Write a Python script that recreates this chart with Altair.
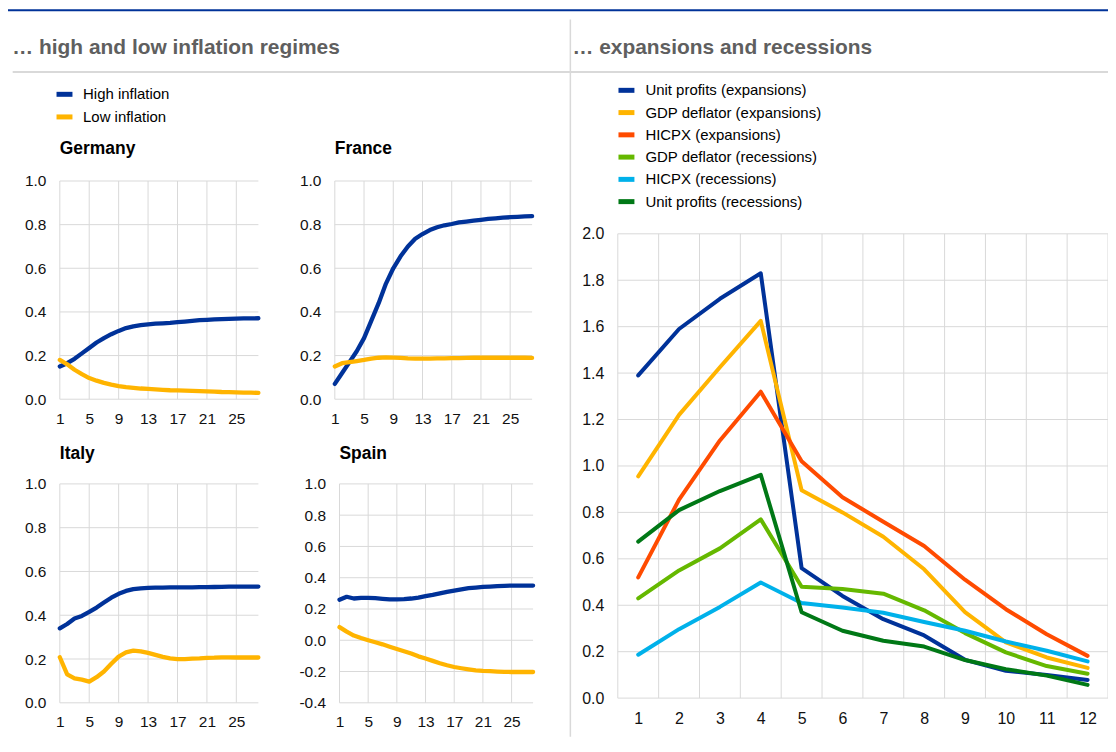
import altair as alt
import pandas as pd

FONT = "Liberation Sans"
W, H = 1104, 730
GRID = "#d9d9d9"
LBL = "#111111"

# ---------------- data ----------------
horizon = list(range(1, 29))
small_xticks = [1, 5, 9, 13, 17, 21, 25]
yticks_0_1 = [0.0, 0.2, 0.4, 0.6, 0.8, 1.0]
yticks_spain = [-0.4, -0.2, 0.0, 0.2, 0.4, 0.6, 0.8, 1.0]

regimes = ["High inflation", "Low inflation"]
regime_colors = ["#003299", "#ffb400"]

germany_high = [0.150, 0.165, 0.185, 0.210, 0.235, 0.260, 0.280, 0.298, 0.313, 0.326, 0.334, 0.339, 0.343, 0.346,
                0.348, 0.350, 0.353, 0.356, 0.359, 0.362, 0.364, 0.366, 0.367, 0.368, 0.369, 0.370, 0.370, 0.371]
germany_low = [0.180, 0.160, 0.135, 0.115, 0.097, 0.085, 0.075, 0.067, 0.060, 0.055, 0.052, 0.049, 0.047, 0.045,
               0.043, 0.041, 0.040, 0.039, 0.038, 0.037, 0.036, 0.035, 0.033, 0.032, 0.031, 0.030, 0.030, 0.029]
france_high = [0.070, 0.120, 0.170, 0.220, 0.280, 0.360, 0.440, 0.530, 0.600, 0.655, 0.700, 0.735, 0.757, 0.775,
               0.788, 0.797, 0.803, 0.810, 0.814, 0.818, 0.822, 0.826, 0.829, 0.832, 0.834, 0.836, 0.838, 0.839]
france_low = [0.150, 0.165, 0.170, 0.175, 0.180, 0.186, 0.190, 0.192, 0.191, 0.189, 0.187, 0.186, 0.186, 0.186,
              0.187, 0.187, 0.188, 0.188, 0.189, 0.190, 0.190, 0.190, 0.190, 0.190, 0.190, 0.190, 0.190, 0.189]
italy_high = [0.340, 0.360, 0.385, 0.397, 0.415, 0.435, 0.458, 0.480, 0.498, 0.511, 0.519, 0.523, 0.525, 0.526,
              0.526, 0.527, 0.527, 0.527, 0.527, 0.528, 0.528, 0.529, 0.530, 0.531, 0.531, 0.531, 0.531, 0.531]
italy_low = [0.208, 0.130, 0.112, 0.106, 0.097, 0.117, 0.143, 0.178, 0.211, 0.230, 0.238, 0.235, 0.228, 0.219,
             0.210, 0.203, 0.200, 0.200, 0.202, 0.203, 0.205, 0.206, 0.208, 0.208, 0.207, 0.207, 0.207, 0.207]
spain_high = [0.259, 0.278, 0.267, 0.271, 0.271, 0.269, 0.265, 0.261, 0.261, 0.263, 0.267, 0.273, 0.282, 0.290,
              0.300, 0.310, 0.318, 0.326, 0.333, 0.337, 0.341, 0.343, 0.346, 0.348, 0.350, 0.350, 0.350, 0.350]
spain_low = [0.084, 0.055, 0.030, 0.014, 0.000, -0.013, -0.026, -0.041, -0.056, -0.070, -0.085, -0.103, -0.117,
             -0.132, -0.147, -0.160, -0.171, -0.179, -0.186, -0.192, -0.196, -0.198, -0.200, -0.202, -0.203,
             -0.203, -0.203, -0.203]

quarters = list(range(1, 13))
right_xgrid = [0.5, 1.5, 2.5, 3.5, 4.5, 5.5, 6.5, 7.5, 8.5, 9.5, 10.5, 11.5, 12.5]
right_yticks = [0.0, 0.2, 0.4, 0.6, 0.8, 1.0, 1.2, 1.4, 1.6, 1.8, 2.0]
cycle_series = ["Unit profits (expansions)", "GDP deflator (expansions)", "HICPX (expansions)",
                "GDP deflator (recessions)", "HICPX (recessions)", "Unit profits (recessions)"]
cycle_colors = ["#003299", "#ffb400", "#ff4b00", "#65b800", "#00b1ea", "#007816"]
unit_profits_exp = [1.39, 1.59, 1.72, 1.83, 0.56, 0.44, 0.34, 0.27, 0.165, 0.118, 0.100, 0.078]
gdp_deflator_exp = [0.955, 1.22, 1.425, 1.625, 0.895, 0.80, 0.695, 0.555, 0.37, 0.24, 0.175, 0.13]
hicpx_exp = [0.52, 0.855, 1.11, 1.32, 1.02, 0.865, 0.76, 0.655, 0.51, 0.383, 0.275, 0.182]
gdp_deflator_rec = [0.43, 0.55, 0.645, 0.77, 0.48, 0.47, 0.45, 0.378, 0.28, 0.197, 0.138, 0.105]
hicpx_rec = [0.187, 0.297, 0.393, 0.498, 0.41, 0.39, 0.368, 0.328, 0.29, 0.244, 0.204, 0.158]
unit_profits_rec = [0.674, 0.81, 0.892, 0.962, 0.37, 0.29, 0.247, 0.222, 0.164, 0.125, 0.097, 0.057]

section_titles = ["\u2026 high and low inflation regimes", "\u2026 expansions and recessions"]

# ---------------- helpers ----------------
AX = dict(domain=False, ticks=False, tickSize=0, grid=False, labelFont=FONT, labelColor=LBL,
          title=None, labelFlush=False, labelOverlap=False)
YFMT = "(datum.value < 0 ? '-' : '') + format(abs(datum.value), '.1f')"


def one_row(**kw):
    return pd.DataFrame([kw])


def panel(title, x0, x1, ytop, ybot, ydom, yticks, high, low, title_y):
    xs = alt.Scale(domain=[1, 28], range=[x0, x1], nice=False, zero=False)
    ys = alt.Scale(domain=ydom, range=[ybot, ytop], nice=False, zero=False)
    vgrid = alt.Chart(pd.DataFrame({"h": small_xticks})).mark_rule(color=GRID, strokeWidth=1).encode(
        x=alt.X("h:Q", scale=xs, axis=None), y=alt.value(ytop), y2=alt.value(ybot))
    hgrid = alt.Chart(pd.DataFrame({"v": yticks})).mark_rule(color=GRID, strokeWidth=1).encode(
        y=alt.Y("v:Q", scale=ys, axis=None), x=alt.value(x0), x2=alt.value(x1))
    df = pd.DataFrame({"horizon": horizon * 2, "value": high + low,
                       "regime": [regimes[0]] * len(high) + [regimes[1]] * len(low)})
    lines = alt.Chart(df).mark_line(strokeWidth=4.3, strokeCap="round", strokeJoin="round").encode(
        x=alt.X("horizon:Q", scale=xs,
                axis=alt.Axis(values=small_xticks, orient="bottom", offset=ybot - H, labelPadding=12,
                              labelFontSize=15.5, **AX)),
        y=alt.Y("value:Q", scale=ys,
                axis=alt.Axis(values=yticks, orient="left", offset=-x0, labelPadding=14, labelFontSize=15.5,
                              labelExpr=YFMT, **AX)),
        color=alt.Color("regime:N", scale=alt.Scale(domain=regimes, range=regime_colors), legend=None),
        detail="regime:N",
    )
    ttl = alt.Chart(one_row(t=title)).mark_text(
        align="left", baseline="alphabetic", font=FONT, fontSize=17.5, fontWeight="bold", color="#000000"
    ).encode(x=alt.value(x0), y=alt.value(title_y), text="t:N")
    return [vgrid, hgrid, lines, ttl]


layers = []

# ---------------- header decoration ----------------
layers.append(alt.Chart(one_row(k=1)).mark_rule(color="#003299", strokeWidth=2).encode(
    x=alt.value(0), x2=alt.value(W), y=alt.value(1)))
layers.append(alt.Chart(one_row(k=1)).mark_rule(color="#d9d9d9", strokeWidth=2).encode(
    x=alt.value(4.7), x2=alt.value(W), y=alt.value(63)))
layers.append(alt.Chart(one_row(k=1)).mark_rule(color="#d9d9d9", strokeWidth=1.5).encode(
    x=alt.value(564.4), y=alt.value(10.3), y2=alt.value(H)))
for txt, xpos in zip(section_titles, [4.3, 566.5]):
    layers.append(alt.Chart(one_row(t=txt)).mark_text(
        align="left", baseline="alphabetic", font=FONT, fontSize=21, fontWeight="bold", color="#5f5f5f"
    ).encode(x=alt.value(xpos), y=alt.value(44.5), text="t:N"))

# ---------------- left legend ----------------
leg_l = pd.DataFrame({"name": regimes})
leg_l_y = alt.Y("name:N", scale=alt.Scale(type="point", domain=regimes, range=[85.3, 108.0], padding=0), axis=None)
layers.append(alt.Chart(leg_l).mark_rule(strokeWidth=5).encode(
    x=alt.value(48.7), x2=alt.value(64.7), y=leg_l_y,
    color=alt.Color("name:N", scale=alt.Scale(domain=regimes, range=regime_colors), legend=None)))
layers.append(alt.Chart(leg_l).mark_text(align="left", baseline="middle", font=FONT, fontSize=15,
                                         color="#000000").encode(
    x=alt.value(75.3), y=leg_l_y, text="name:N"))

# ---------------- small panels ----------------
layers += panel("Germany", 52, 251.3, 172.3, 391.3, [0, 1], yticks_0_1, germany_high, germany_low, 145.3)
layers += panel("France", 328, 526, 172.3, 391.3, [0, 1], yticks_0_1, france_high, france_low, 145.3)
layers += panel("Italy", 52, 251.3, 476.3, 696, [0, 1], yticks_0_1, italy_high, italy_low, 451)
layers += panel("Spain", 332.7, 527, 476.3, 696, [-0.4, 1], yticks_spain, spain_high, spain_low, 451)

# ---------------- right legend ----------------
leg_r = pd.DataFrame({"name": cycle_series})
leg_r_y = alt.Y("name:N", scale=alt.Scale(type="point", domain=cycle_series, range=[81.3, 193.0], padding=0),
                axis=None)
layers.append(alt.Chart(leg_r).mark_rule(strokeWidth=5).encode(
    x=alt.value(612.7), x2=alt.value(628.7), y=leg_r_y,
    color=alt.Color("name:N", scale=alt.Scale(domain=cycle_series, range=cycle_colors), legend=None)))
layers.append(alt.Chart(leg_r).mark_text(align="left", baseline="middle", font=FONT, fontSize=15,
                                         color="#000000").encode(
    x=alt.value(639.7), y=leg_r_y, text="name:N"))

# ---------------- right panel ----------------
RX0, RX1, RYT, RYB = 612, W, 225.3, 691.3
xs_r = alt.Scale(domain=[0.5, 12.5], range=[RX0, RX1], nice=False, zero=False)
ys_r = alt.Scale(domain=[0, 2], range=[RYB, RYT], nice=False, zero=False)
layers.append(alt.Chart(pd.DataFrame({"g": right_xgrid})).mark_rule(color=GRID, strokeWidth=1).encode(
    x=alt.X("g:Q", scale=xs_r, axis=None), y=alt.value(RYT), y2=alt.value(RYB)))
layers.append(alt.Chart(pd.DataFrame({"v": right_yticks})).mark_rule(color=GRID, strokeWidth=1).encode(
    y=alt.Y("v:Q", scale=ys_r, axis=None), x=alt.value(RX0), x2=alt.value(RX1)))

cycle_values = [unit_profits_exp, gdp_deflator_exp, hicpx_exp, gdp_deflator_rec, hicpx_rec, unit_profits_rec]
rows = []
for name, vals in zip(cycle_series, cycle_values):
    for q, v in zip(quarters, vals):
        rows.append({"quarter": q, "value": v, "series": name})
df_r = pd.DataFrame(rows)
layers.append(alt.Chart(df_r).mark_line(strokeWidth=4, strokeCap="round", strokeJoin="round").encode(
    x=alt.X("quarter:Q", scale=xs_r,
            axis=alt.Axis(values=quarters, orient="bottom", offset=RYB - H, labelPadding=12, labelFontSize=16,
                          **AX)),
    y=alt.Y("value:Q", scale=ys_r,
            axis=alt.Axis(values=right_yticks, orient="left", offset=-RX0, labelPadding=14, labelFontSize=16,
                          labelExpr=YFMT, **AX)),
    color=alt.Color("series:N", scale=alt.Scale(domain=cycle_series, range=cycle_colors), legend=None),
    detail="series:N",
))

chart = alt.layer(*layers).resolve_scale(
    x="independent", y="independent", color="independent"
).resolve_axis(
    x="independent", y="independent"
).properties(
    width=W, height=H, padding=0, autosize=alt.AutoSizeParams(type="none")
).configure_view(stroke=None)

chart.save("out.html", embed_options={"renderer": "svg", "actions": False})
